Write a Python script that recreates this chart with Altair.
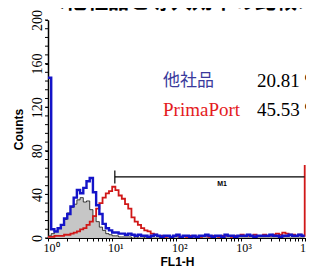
import json
import altair as alt
import numpy as np
import pandas as pd

# ---------------- data ----------------
TITLE = "＜他社品と導入効率の比較＞"
X_TITLE = "FL1-H"
Y_TITLE = "Counts"
X_TICK_LABELS = ["10⁰", "10¹", "10²", "10³", "10⁴"]
DECADES = [1, 10, 100, 1000, 10000]
Y_LABELS = [0, 40, 80, 120, 160, 200]
Y_MINOR_STEP = 8
LEGEND_NAMES = ["他社品", "PrimaPort"]
LEGEND_PCTS = ["20.81 %", "45.53 %"]
MARKER_NAME = "M1"
MARKER_RANGE = [11, 9910]
MARKER_LEVEL = 56

LOG_STEP = 0.05  # histogram channel spacing in decades (FL1-H = 10**(i*LOG_STEP))

# 他社品 (blue)
blue = [147, 8, 6, 9, 12, 18, 22, 29, 37, 44, 41, 46, 52, 55, 42, 30, 22, 13, 9, 7,
        5, 5, 4, 4, 3, 4, 3, 2, 3, 2,
        2, 1, 2, 3, 2, 1, 2, 2, 1, 2, 3, 1, 2, 2, 1, 2, 1, 2, 2, 3,
        2, 1, 2, 2, 1, 3, 2, 2, 1, 2, 2, 2, 3, 2, 1, 2, 2, 2, 2, 3,
        2, 2, 1, 2, 2, 3, 2, 2, 3, 2, 2]

# PrimaPort (red)
red = [1, 1, 2, 2, 2, 3, 3, 4, 5, 6, 8, 9, 12, 15, 20, 27, 32, 37, 41, 43,
       47, 44, 39, 36, 31, 27, 19, 15, 12, 9, 7, 6, 4, 3, 2,
       2, 1, 2, 1, 2, 2, 1, 2, 1, 2, 2, 1, 1, 2, 2, 1, 2, 2, 1, 2,
       2, 2, 1, 2, 2, 3, 2, 2, 2, 3, 2, 2, 3, 2, 2, 3, 4, 3, 5, 4,
       3, 3, 2, 3, 2, 67]

# control (gray filled, black outline)
control = [2, 4, 6, 9, 12, 17, 23, 28, 31, 35, 37, 33, 34, 26, 20, 15, 10, 7, 4, 3,
           2, 2, 1, 1, 1,
           1, 0, 1, 0, 0, 1, 0, 0, 0, 0, 0, 0, 0, 0, 0, 0, 0, 0, 0, 0,
           0, 0, 0, 0, 0, 0, 0, 0, 0, 0, 0, 0, 0, 0, 0, 0, 0, 0, 0, 0,
           0, 0, 0, 0, 0, 0, 0, 0, 0, 0, 0, 0, 0, 0, 0, 0]

fl = 10 ** (np.arange(len(blue)) * LOG_STEP)


def frame(vals):
    return pd.DataFrame({"fl": fl[: len(vals)], "count": vals})


# ---------------- scales / axes ----------------
x_ticks = [m * 10 ** k for k in range(4) for m in range(1, 10)] + [10000]
x_label_expr = (
    f"indexof({json.dumps(DECADES)}, datum.value) >= 0 ? "
    f"{json.dumps(X_TICK_LABELS, ensure_ascii=False)}[indexof({json.dumps(DECADES)}, datum.value)] : ''"
)

x_scale = alt.Scale(type="log", domain=[1, 10 ** 4.02], nice=False)
y_scale = alt.Scale(domain=[0, 200], nice=False, zero=True)

x_axis = alt.Axis(
    title=X_TITLE, values=x_ticks, labelExpr=x_label_expr, grid=False,
    tickSize=3, tickColor="black", domainColor="black", domainWidth=1.2,
    labelFont="Liberation Serif", labelFontSize=12, labelColor="black",
    labelPadding=1, labelFlush=False, labelOverlap=False, labelOffset=3,
    titleFont="Liberation Sans", titleFontSize=12, titleFontWeight="bold",
    titleColor="black", titlePadding=3,
)
y_axis = alt.Axis(
    title=Y_TITLE, values=Y_LABELS, grid=False,
    tickSize=3, tickColor="black", domainColor="black", domainWidth=1.5,
    labelFont="Liberation Serif", labelFontSize=14, labelColor="black",
    labelAngle=270, labelAlign="center", labelBaseline="bottom",
    labelPadding=1, labelFlush=False, labelOverlap=False,
    titleFont="Liberation Sans", titleFontSize=12, titleFontWeight="bold",
    titleColor="black", titlePadding=5,
)

X = alt.X("fl:Q", scale=x_scale, axis=x_axis)
Y = alt.Y("count:Q", scale=y_scale, axis=y_axis)

ctrl_area = alt.Chart(frame(control)).mark_area(
    interpolate="step-after", color="#c6c6c6", clip=True
).encode(x=X, y=Y)
ctrl_line = alt.Chart(frame(control)).mark_line(
    interpolate="step-after", color="#111111", strokeWidth=0.8, clip=True
).encode(x="fl:Q", y="count:Q")
red_line = alt.Chart(frame(red)).mark_line(
    interpolate="step-after", color="#d01818", strokeWidth=1.8, clip=True
).encode(x="fl:Q", y="count:Q")
blue_line = alt.Chart(frame(blue)).mark_line(
    interpolate="step-after", color="#1414c8", strokeWidth=2.4, clip=True
).encode(x="fl:Q", y="count:Q")

# minor y ticks
minor = pd.DataFrame({"v": list(range(0, 201, Y_MINOR_STEP))})
y_minor = alt.Chart(minor).mark_rule(color="black", strokeWidth=1).encode(
    y="v:Q", x=alt.value(-3), x2=alt.value(0))

# marker M1
mk = pd.DataFrame({"x1": [MARKER_RANGE[0]], "x2": [MARKER_RANGE[1]], "y": [MARKER_LEVEL],
                   "ylo": [MARKER_LEVEL - 6], "yhi": [MARKER_LEVEL + 6], "name": [MARKER_NAME]})
mk_h = alt.Chart(mk).mark_rule(color="black", strokeWidth=1.2).encode(
    x="x1:Q", x2="x2:Q", y="y:Q")
mk_v = alt.Chart(mk).mark_rule(color="black", strokeWidth=1.2).encode(
    x="x1:Q", y="ylo:Q", y2="yhi:Q")
mk_t = alt.Chart(mk).mark_text(
    font="Liberation Sans", fontSize=7, fontWeight="bold", color="black",
    align="center", baseline="top").encode(
    x=alt.value(174), y=alt.value(160), text="name:N")

# texts
title = alt.Chart(pd.DataFrame({"t": [TITLE]})).mark_text(
    font="Noto Sans CJK JP", fontSize=21, fontWeight="bold", color="black",
    align="left", baseline="alphabetic").encode(
    x=alt.value(-3), y=alt.value(-12), text="t:N")

leg = pd.DataFrame({"name": LEGEND_NAMES, "pct": LEGEND_PCTS})
name1 = alt.Chart(leg.iloc[[0]]).mark_text(
    font="Noto Sans CJK JP", fontSize=17, color="#3a3a9c", align="left",
    baseline="alphabetic").encode(x=alt.value(115), y=alt.value(66), text="name:N")
name2 = alt.Chart(leg.iloc[[1]]).mark_text(
    font="Liberation Serif", fontSize=19, color="#e41a22", align="left",
    baseline="alphabetic").encode(x=alt.value(115), y=alt.value(96), text="name:N")
pct1 = alt.Chart(leg.iloc[[0]]).mark_text(
    font="Liberation Serif", fontSize=19, color="black", align="left",
    baseline="alphabetic").encode(x=alt.value(209), y=alt.value(67), text="pct:N")
pct2 = alt.Chart(leg.iloc[[1]]).mark_text(
    font="Liberation Serif", fontSize=19, color="black", align="left",
    baseline="alphabetic").encode(x=alt.value(209), y=alt.value(96), text="pct:N")

chart = alt.layer(
    ctrl_area, ctrl_line, red_line, blue_line, y_minor, mk_h, mk_v, mk_t,
    title, name1, name2, pct1, pct2,
).properties(
    width=258, height=218,
    autosize=alt.AutoSizeParams(type="none"),
    padding={"left": 40, "top": 12, "right": 0, "bottom": 33},
    background="white",
).configure_view(stroke=None)

chart.save("out.html", embed_options={"renderer": "svg", "actions": False})
